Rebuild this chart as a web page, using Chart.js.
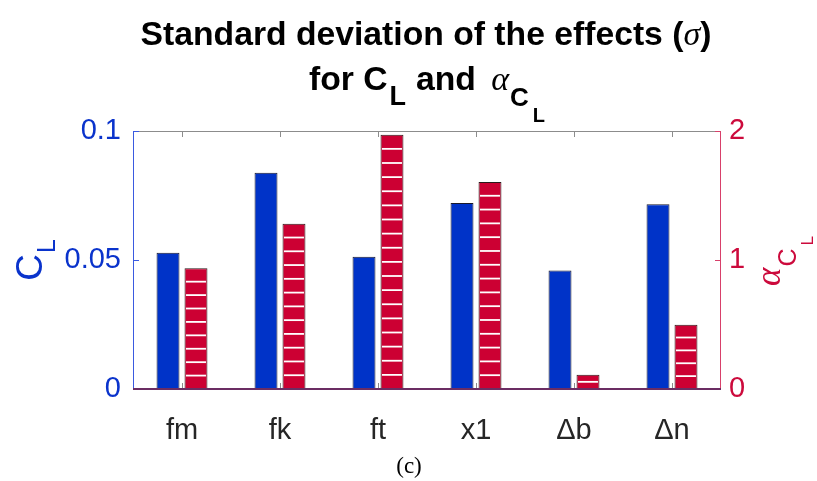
<!DOCTYPE html>
<html>
<head>
<meta charset="utf-8">
<script src="https://cdn.jsdelivr.net/npm/chart.js@4.4.0/dist/chart.umd.min.js"></script>
<style>
  html, body { margin: 0; padding: 0; background: #ffffff; }
  #wrap { width: 817px; height: 481px; }
</style>
</head>
<body>
<div id="wrap"><canvas id="c" width="817" height="481"></canvas></div>
<script>
// Effects and their standard deviations
const categories = ['fm', 'fk', 'ft', 'x1', '\u0394b', '\u0394n'];
const clSigma = [0.0528, 0.0838, 0.0513, 0.0721, 0.0459, 0.0716];
const alphaSigma = [0.936, 1.281, 1.971, 1.605, 0.111, 0.499];
const clTicks = [0, 0.05, 0.1];
const alphaTicks = [0, 1, 2];

const SANS = '"Liberation Sans", Arial, Helvetica, sans-serif';
const SERIF = '"Liberation Serif", "DejaVu Serif", serif';
const BLUE = '#0033c8';
const RED = '#cc0033';
const BLUE_TXT = '#0a33cc';
const RED_TXT = '#cc0a3c';

// Draw a run of text pieces (with their own font and baseline shift)
function drawRuns(ctx, runs, cx, baseY, color) {
  let total = 0;
  runs.forEach(r => { ctx.font = r.font; r.w = ctx.measureText(r.text).width; total += r.w + (r.gap || 0); });
  let x = cx - total / 2;
  ctx.fillStyle = color;
  ctx.textBaseline = 'alphabetic';
  ctx.textAlign = 'left';
  runs.forEach(r => {
    ctx.font = r.font;
    ctx.fillText(r.text, x, baseY + (r.dy || 0));
    x += r.w + (r.gap || 0);
  });
}

const decorPlugin = {
  id: 'decor',
  afterDatasetsDraw(chart) {
    const ctx = chart.ctx;
    const { left, right, top, bottom } = chart.chartArea;
    const xs = chart.scales.x;
    const yl = chart.scales.yL;
    const yr = chart.scales.yR;

    // horizontal hatch lines on the alpha bars
    const meta = chart.getDatasetMeta(1);
    ctx.save();
    ctx.strokeStyle = '#ffffff';
    ctx.lineWidth = 1.8;
    meta.data.forEach(bar => {
      const p = bar.getProps(['x', 'y', 'base', 'width'], true);
      const h = p.base - p.y;
      const n = Math.floor(h / 14.2) + 1;
      for (let k = 1; k < n; k++) {
        const yy = p.base - h * k / n;
        ctx.beginPath();
        ctx.moveTo(p.x - p.width / 2 + 1.5, yy);
        ctx.lineTo(p.x + p.width / 2 - 1.5, yy);
        ctx.stroke();
      }
    });
    ctx.restore();

    // axes box and inward ticks
    ctx.save();
    ctx.lineWidth = 1;
    ctx.strokeStyle = '#8c8c8c';
    ctx.beginPath();
    ctx.moveTo(left, top + 0.5);
    ctx.lineTo(right, top + 0.5);
    for (let i = 0; i < categories.length; i++) {
      const px = Math.round(xs.getPixelForValue(i)) + 0.5;
      ctx.moveTo(px, top);
      ctx.lineTo(px, top + 6);
      ctx.moveTo(px, bottom);
      ctx.lineTo(px, bottom - 6);
    }
    ctx.stroke();

    ctx.strokeStyle = '#3a5ae0';
    ctx.beginPath();
    ctx.moveTo(left + 0.5, top);
    ctx.lineTo(left + 0.5, bottom);
    clTicks.forEach(v => {
      const py = Math.round(yl.getPixelForValue(v)) + 0.5;
      ctx.moveTo(left, py);
      ctx.lineTo(left + 6, py);
    });
    ctx.stroke();

    ctx.strokeStyle = '#d8406a';
    ctx.beginPath();
    ctx.moveTo(right - 0.5, top);
    ctx.lineTo(right - 0.5, bottom);
    alphaTicks.forEach(v => {
      const py = Math.round(yr.getPixelForValue(v)) + 0.5;
      ctx.moveTo(right, py);
      ctx.lineTo(right - 6, py);
    });
    ctx.stroke();

    ctx.strokeStyle = '#6b2d63';
    ctx.lineWidth = 2;
    ctx.beginPath();
    ctx.moveTo(left, bottom);
    ctx.lineTo(right, bottom);
    ctx.stroke();
    ctx.restore();
  },
  afterDraw(chart) {
    const ctx = chart.ctx;
    ctx.save();
    // title, two lines
    const tb = 'bold 33.7px ' + SANS;
    drawRuns(ctx, [
      { text: 'Standard deviation of the effects (', font: tb },
      { text: '\u03c3', font: 'italic 34px ' + SERIF },
      { text: ')', font: tb }
    ], 426, 45, '#000000');
    drawRuns(ctx, [
      { text: 'for C', font: tb, gap: 2 },
      { text: 'L', font: 'bold 27px ' + SANS, dy: 15, gap: 10 },
      { text: 'and ', font: tb, gap: 6 },
      { text: '\u03b1', font: 'italic 34px ' + SERIF, gap: 1 },
      { text: 'C', font: 'bold 26px ' + SANS, dy: 16, gap: 4 },
      { text: 'L', font: 'bold 20px ' + SANS, dy: 32 }
    ], 427, 90, '#000000');

    // left axis title
    ctx.save();
    ctx.translate(42, 260);
    ctx.rotate(-Math.PI / 2);
    drawRuns(ctx, [
      { text: 'C', font: '37px ' + SANS, gap: 1 },
      { text: 'L', font: '25px ' + SANS, dy: 13 }
    ], 0, 0, BLUE_TXT);
    ctx.restore();

    // right axis title
    ctx.save();
    ctx.translate(780, 261);
    ctx.rotate(-Math.PI / 2);
    drawRuns(ctx, [
      { text: '\u03b1', font: 'italic 35px ' + SERIF, gap: 1 },
      { text: 'C', font: '25px ' + SANS, dy: 16, gap: 3 },
      { text: 'L', font: '17px ' + SANS, dy: 33 }
    ], 0, 0, RED_TXT);
    ctx.restore();

    // caption
    ctx.fillStyle = '#000000';
    ctx.font = '23px ' + SERIF;
    ctx.textAlign = 'center';
    ctx.textBaseline = 'alphabetic';
    ctx.fillText('(c)', 409, 473);
    ctx.restore();
  }
};

new Chart(document.getElementById('c'), {
  type: 'bar',
  data: {
    labels: categories,
    datasets: [
      {
        label: 'C_L',
        data: clSigma,
        yAxisID: 'yL',
        backgroundColor: BLUE,
        borderColor: '#1a1a2a',
        borderWidth: 1,
        borderSkipped: 'bottom',
        categoryPercentage: 0.571,
        barPercentage: 0.82
      },
      {
        label: 'alpha_CL',
        data: alphaSigma,
        yAxisID: 'yR',
        backgroundColor: RED,
        borderColor: '#2a1a1a',
        borderWidth: 1,
        borderSkipped: 'bottom',
        categoryPercentage: 0.571,
        barPercentage: 0.82
      }
    ]
  },
  options: {
    responsive: false,
    animation: false,
    devicePixelRatio: 1,
    layout: { padding: { top: 131, left: 0, right: 0, bottom: 0 } },
    plugins: { legend: { display: false }, tooltip: { enabled: false }, title: { display: false } },
    scales: {
      x: {
        grid: { display: false },
        border: { display: false },
        ticks: { color: '#262626', font: { family: SANS, size: 29 }, padding: 17 },
        afterFit(s) { s.height = 92; }
      },
      yL: {
        position: 'left',
        min: 0,
        max: 0.1,
        grid: { display: false, drawTicks: false },
        border: { display: false },
        afterBuildTicks(s) { s.ticks = clTicks.map(v => ({ value: v })); },
        ticks: {
          color: BLUE_TXT,
          font: { family: SANS, size: 29 },
          padding: 12,
          callback: v => String(v)
        },
        afterFit(s) { s.width = 133; }
      },
      yR: {
        position: 'right',
        min: 0,
        max: 2,
        grid: { display: false, drawTicks: false },
        border: { display: false },
        afterBuildTicks(s) { s.ticks = alphaTicks.map(v => ({ value: v })); },
        ticks: {
          color: RED_TXT,
          font: { family: SANS, size: 29 },
          padding: 8,
          callback: v => String(v)
        },
        afterFit(s) { s.width = 96; }
      }
    }
  },
  plugins: [decorPlugin]
});
</script>
</body>
</html>
